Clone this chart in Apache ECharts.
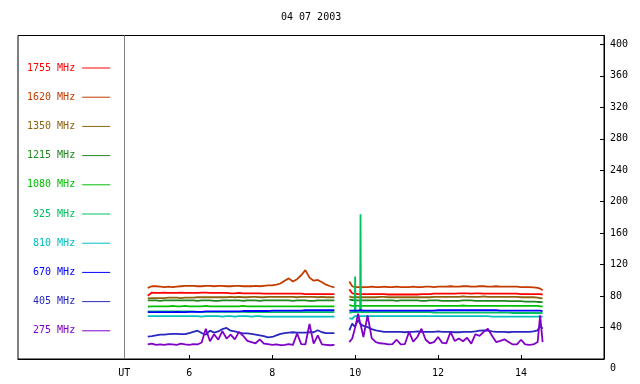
<!DOCTYPE html>
<html><head><meta charset="utf-8">
<script src="https://cdn.jsdelivr.net/npm/echarts@6/dist/echarts.min.js"></script>
<style>html,body{margin:0;padding:0;background:#fff}#c{width:640px;height:384px}</style>
</head><body><div id="c"></div>
<script>
const chartTitle = '04 07 2003';
const utHour = 4.434;
const xTicks = [6, 8, 10, 12, 14];
const yTicks = [0, 40, 80, 120, 160, 200, 240, 280, 320, 360, 400];
const names = ['1755 MHz','1620 MHz','1350 MHz','1215 MHz','1080 MHz','925 MHz','810 MHz','670 MHz','405 MHz','275 MHz'];
const colors = ['#ff0000','#c43c00','#8c6410','#208820','#00c000','#00c060','#00c0c0','#0000ff','#2828c0','#8000c8'];

const hours = [
 5.0,5.1,5.2,5.3,5.4,5.5,5.6,5.7,5.8,5.9,
 6.0,6.1,6.2,6.3,6.4,6.5,6.6,6.7,6.8,6.9,
 7.0,7.1,7.2,7.3,7.4,7.5,7.6,7.7,7.8,7.9,
 8.0,8.1,8.2,8.3,8.4,8.5,8.6,8.7,8.8,8.9,
 9.0,9.1,9.2,9.3,9.4,9.5,
 9.68,
 9.86,9.93,9.99,10.0,10.01,10.07,10.12,10.13,10.14,10.2,
 10.3,10.4,10.5,10.6,10.7,10.8,10.9,11.0,11.1,11.2,
 11.3,11.4,11.5,11.6,11.7,11.8,11.9,12.0,12.1,12.2,
 12.3,12.4,12.5,12.6,12.7,12.8,12.9,13.0,13.1,13.2,
 13.3,13.4,13.5,13.6,13.7,13.8,13.9,14.0,14.1,14.2,
 14.3,14.4,14.46,14.52
];

const f1755 = [
 80.5,84.5,84,84,84.5,84,84,84,84.5,84, 84,84,84,84.5,84.5,84,84,84,84,84,
 83.5,83.5,84,83.5,83.5,83.5,83.5,83.5,83,83, 83,83,83,83,83,83,83,83,82.5,82.5,
 82.5,82.5,82.5,82.5,82.5,82.5,
 null,
 88.5,83.5,83,83,83,82.5,82.5,82.5,82.5,82.5,
 82.5,82.5,82.5,82.5,82.5,82,82,82,82,82, 82,82,82,82.5,82.5,82.5,83,83,83,83,
 83,83,83.5,83.5,83.5,83,83.5,83.5,83,83, 83,83,83,83,83,83,83,82.5,82.5,82.5,
 82.5,82.5,82.5,82
];
const f1620 = [
 90.5,92.5,92.5,92,91.5,92,91.5,92,92.5,93, 93,93,92.5,92.5,93,93,92.5,93,93,92.5,
 92.5,93,93,92.5,92.5,92.5,93,92.5,93,93.5, 93.5,94.5,96,99.5,102.5,98.5,101.5,106.5,113,103.5,
 99.5,100.5,97.5,94.5,92.5,91,
 null,
 98.5,92.5,91.5,91.5,91.5,91.5,91.5,91.5,91.5,91.5,
 91.5,92,91.5,91.5,92,91.5,91.5,92,91.5,91.5, 91.5,92,91.5,91.5,92,92,91.5,92,92,92,
 92.5,92,92,92.5,92.5,92,92,92.5,92.5,92, 92,92.5,92,92,92,92,92,91.5,91.5,91.5,
 91,90.5,89.5,87.5
];
const f1350 = [
 77,77.5,77.5,77.5,77.5,78,78,78,77.5,78, 78,78,78.5,78.5,78.5,78.5,78.5,78.5,78.5,78.5,
 79,78.5,79,78.5,78.5,79,79,78.5,78.5,79, 79,79,79,79,79,79,78.5,79,79,79,
 79,78.5,79,78.5,78.5,78.5,
 null,
 79.5,78.5,78.5,78.5,78.5,78.5,78.5,78.5,78.5,78.5,
 78.5,78.5,78.5,79,79,78.5,78.5,78.5,78.5,78.5, 78.5,78.5,78.5,78.5,78.5,78.5,79,79,79,79,
 79,79,79,79.5,79,79,79,79,79.5,79, 79,79,79,79,79,79,79,78.5,78.5,78.5,
 78.5,78,77.5,77
];
const f1215 = [
 74.5,74.5,74.5,74,74.5,74.5,74.5,74.5,74.5,74.5, 74.5,74.5,74,74.5,74.5,74.5,74,74,74.5,74.5,
 74.5,74.5,74.5,74,74.5,74.5,74.5,74,74.5,74.5, 74.5,74.5,74.5,74.5,74.5,74,74.5,74.5,74.5,74,
 74,74.5,74.5,74.5,74.5,74.5,
 null,
 75.5,75,74.5,74.5,74.5,74.5,74.5,74.5,74.5,74.5,
 74.5,74.5,74.5,74.5,74.5,74.5,74.5,74,74.5,74.5, 74.5,74.5,74.5,74,74,74.5,74.5,74.5,74,74,
 74,74,74,74.5,74.5,74.5,74,74,74,74, 74,74,74,74,73.5,73.5,73.5,73.5,73,73,
 73,72.5,72.5,72
];
const f1080 = [
 66.5,67,67,67,67,67,67.5,67,67,67.5, 67,67,67,67,67.5,67,67,67,67,67,
 67,67,67,67.5,67,67,67,67,67,67, 67,67,67,67,67,67,67,67,67,67,
 67,67,67,67,67,67,
 null,
 68.5,67.5,67.5,67.5,67.5,67.5,67.5,67.5,67.5,67.5,
 67.5,67.5,67.5,67.5,67.5,67.5,67.5,67.5,67.5,67.5, 67.5,67.5,67.5,67.5,67.5,67.5,67.5,67.5,67.5,67.5,
 67.5,67.5,67.5,68,67.5,67.5,67.5,67.5,67.5,67.5, 67.5,67.5,67.5,67.5,67.5,67.5,67.5,67.5,67.5,67.5,
 67.5,67.5,67,67
];
const f925 = [
 60.5,60.5,60.5,60.5,60.5,60.5,60.5,60.5,60.5,60.5, 60.5,60.5,60,60,60,60,60,60,60,60,
 60,60,60,60,59.5,59.5,59.5,59.5,59.5,59.5, 59.5,59.5,59.5,59.5,59.5,59.5,59.5,59.5,59.5,59.5,
 59.5,59.5,59.5,59.5,59.5,59.5,
 null,
 58.5,59.5,59.5,105,59.5,59.5,59.5,184,59.5,59.5,
 59.5,59.5,59.5,59.5,59.5,59.5,59.5,59.5,59.5,59.5, 59.5,59.5,59.5,59.5,59.5,59.5,59,59,59,59,
 59,59,59,59,59,59,59,59,59,59, 59,59,59,59,59,58.5,58.5,58.5,58.5,58.5,
 58.5,58.5,58.5,58.5
];
const f810 = [
 54.5,54.5,54.5,54.5,54.5,54.5,54.5,54.5,54.5,54.5, 54.5,54.5,54.5,54,54.5,54.5,54.5,54.5,54,54.5,
 54.5,54,54.5,54.5,54.5,54,54.5,54.5,54,54, 54,54,54,54,54,54,54,54,54,54,
 54,54,54,54,54,54,
 null,
 52,51,54.5,54.5,54.5,54.5,54.5,54.5,54.5,54.5,
 54.5,54.5,54.5,54.5,54.5,54.5,54.5,54.5,54.5,54.5, 54.5,54.5,54.5,54.5,54.5,54.5,54.5,54.5,54.5,54.5,
 54.5,54.5,54.5,54.5,54.5,54.5,54.5,54.5,54.5,54.5, 54,54,54,54,54,54,54,54,54,54,
 54,54,54,54
];
const f670 = [
 59.5,59.5,59.5,59.5,59.5,59.5,59.5,60,59.5,59.5, 60,60,60,60,60.5,60.5,60.5,60.5,60.5,60.5,
 60.5,60.5,60.5,61,61,61,61,61,61,61, 61.5,61.5,61.5,61.5,61.5,61.5,61.5,61.5,62,62,
 62,62,62,62,62,62,
 null,
 61.5,61.5,61.5,61.5,61.5,61.5,62,62,62,61.5,
 61.5,61.5,61.5,61.5,61.5,61.5,61.5,61.5,61.5,61.5, 61.5,61.5,61.5,61.5,61.5,61.5,61.5,62,62,62,
 62,62,62,62,62,62,62,62,62,62, 62,62,61.5,61.5,61.5,61.5,61.5,61.5,61.5,61.5,
 61.5,61.5,61.5,61
];
const f405 = [
 28.5,29,30,31,31,31.5,32,32,31.5,31.5, 33,34.5,36,33,31,36,33.5,35,38,39.5,
 36,35,33.5,32.5,32.5,32,31,30,29,27.5, 28,30,32,33,33.5,34,33.5,33.5,33.5,34,
 34,36.5,34,33,33,33,
 null,
 36.5,45,41,41,41,49.5,45,44,43,42,
 40.5,38,36.5,35.5,34.5,34.5,34.5,34.5,34.5,34, 34.5,34.5,35,34.5,34.5,34.5,34.5,35,34.5,34.5,
 34.5,34,34,34.5,34.5,34.5,35,36,36.5,36, 35,34.5,34.5,34.5,34,34.5,34.5,34.5,34.5,34.5,
 35,36.5,42,38.5
];
const f275 = [
 18.5,19.5,18,18.5,18,19,18.5,18,19.5,18.5, 18,19,18.5,21,38.5,22.5,31.5,24.5,35.5,26,
 31,25,34.5,29.5,23,21.5,20,25,19.5,19, 18,18.5,17.5,18,19,18,32.5,19,18.5,44.5,
 19.5,30,18.5,18,17.5,18,
 null,
 21.5,26,38,40,42,57.5,46,45,42,28,
 55.5,26.5,21.5,20,19.5,18.5,19,24.5,18.5,19, 34.5,22,28,38.5,24.5,20,21.5,28,20.5,20,
 34.5,23,26,22.5,27,19.5,31.5,29.5,34.5,38.5, 29.5,21.5,23,25,21.5,18.5,18.5,24.5,18.5,18,
 18.5,21.5,55.5,21.5
];

const seriesValues = [f1755, f1620, f1350, f1215, f1080, f925, f810, f670, f405, f275];
const mono = 'DejaVu Sans Mono';

const series = seriesValues.map((vals, i) => ({
  name: names[i],
  type: 'line',
  data: hours.map((h, j) => [h, vals[j]]),
  showSymbol: false,
  symbol: 'none',
  connectNulls: false,
  lineStyle: { color: colors[i], width: 1.8 },
  itemStyle: { color: colors[i] },
  animation: false,
  silent: true
}));
series[0].markLine = {
  silent: true, symbol: ['none', 'none'], label: { show: false },
  lineStyle: { color: '#808080', type: 'solid', width: 1 },
  data: [{ xAxis: utHour }]
};

const chart = echarts.init(document.getElementById('c'), null, { renderer: 'canvas' });
chart.setOption({
  animation: false,
  backgroundColor: '#ffffff',
  title: { text: chartTitle, left: 281, top: 12, padding: 0,
    textStyle: { fontFamily: mono, fontSize: 10, fontWeight: 'normal', color: '#000' } },
  legend: {
    orient: 'vertical', left: 27, top: 62, padding: 0, align: 'right',
    icon: 'rect', itemWidth: 28, itemHeight: 1, itemGap: 17.2, selectedMode: false,
    textStyle: { fontFamily: mono, fontSize: 10, lineHeight: 12, padding: [0, 2, 0, 0] },
    data: names.map((n, i) => ({ name: n, textStyle: { color: colors[i] } }))
  },
  grid: { left: 18, right: 36, top: 35.5, bottom: 25, show: true, borderColor: '#000', borderWidth: 1, containLabel: false },
  xAxis: {
    type: 'value', min: 1.872, max: 16,
    axisLine: { show: true, lineStyle: { color: '#000' } },
    axisTick: { show: true, inside: true, length: 4, customValues: xTicks, lineStyle: { color: '#000' } },
    axisLabel: { customValues: [utHour].concat(xTicks), margin: 9, color: '#000', fontFamily: mono, fontSize: 10,
      formatter: v => (Math.abs(v - utHour) < 0.01 ? 'UT' : String(v)) },
    splitLine: { show: false }
  },
  yAxis: {
    type: 'value', position: 'right', min: 0, max: 411.3,
    axisLine: { show: true, lineStyle: { color: '#000' } },
    axisTick: { show: true, inside: true, length: 4, customValues: yTicks, lineStyle: { color: '#000' } },
    axisLabel: { customValues: yTicks, margin: 6, color: '#000', fontFamily: mono, fontSize: 10,
      formatter: v => (v === 0 ? '{z|0}' : String(v)),
      rich: { z: { padding: [18, 0, 0, 0], fontFamily: mono, fontSize: 10, color: '#000' } } },
    splitLine: { show: false }
  },
  series: series
});
</script></body></html>
